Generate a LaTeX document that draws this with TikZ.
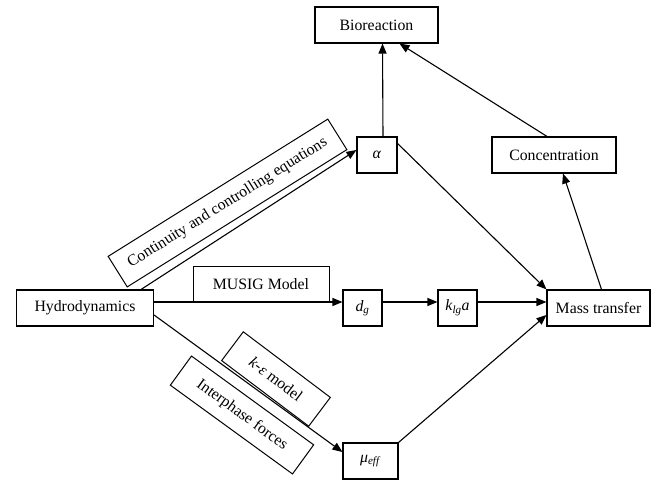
\documentclass[tikz,border=0pt]{standalone}
\usepackage{fontspec}
\setmainfont{Liberation Serif}
\usetikzlibrary{arrows.meta,positioning}
\tikzset{
    block/.style = {
        draw,
        line width=1.1pt,
        minimum height=36pt,
        inner sep=2pt,
        },
    tag/.style = {
        draw,
        line width=1pt,
        minimum height=36pt,
        inner sep=2pt,
        },
    link/.style = {
        ->,
        line width=1.1pt,
        },
}
\newcommand{\ivar}[2]{\textit{#1}\textsubscript{\textit{#2}}}

\begin{document}
\begin{tikzpicture}[
            x=1pt, y=-1pt,
            >={Triangle[length=10pt, width=8pt]},
            every node/.style={font=\fontsize{15.8}{19}\selectfont}
            ]
            \useasboundingbox (0,0) rectangle (666,481);

            % Blocks
            \node [block, minimum width=137pt] (hydro) at (85,308) {Hydrodynamics};
            \node [block, minimum width=40pt] (alpha) at (377,155) {\textit{α}};
            \node [block, minimum width=39pt] (dg) at (362.5,308) {\ivar{d}{g}};
            \node [block, minimum width=55pt] (mu) at (370.5,461) {\ivar{μ}{eff}};
            \node [block, minimum width=39pt] (kla) at (457.5,308) {\ivar{k}{lg}\textit{a}};
            \node [block, minimum width=103pt] (mass) at (598.5,308) {Mass transfer};
            \node [block, minimum width=124pt] (conc) at (554,155) {Concentration};
            \node [block, minimum width=123pt] (bio) at (376.5,25) {Bioreaction};

            % Tags along the links
            \node [tag, minimum width=136pt] (musig) at (261,284.5) {MUSIG Model};
            \node [tag, minimum width=259pt, rotate=32] (cont) at (227.5,203) {Continuity and controlling equations};
            \node [tag, minimum width=109pt, rotate=-37] (keps) at (276,379) {\textit{k}-\textit{ε} model};
            \node [tag, minimum width=151pt, rotate=-36] (inter) at (242,415) {Interphase forces};

            % Links
            \draw[link] ([xshift=-13pt]hydro.north east) -- ([yshift=5pt]alpha.west);
            \draw[link] ([yshift=6pt]hydro.east) -- ([yshift=6pt]dg.west);
            \draw[link] ([yshift=-7pt]hydro.east) -- ([yshift=9pt]mu.west);

            \draw[link] ([yshift=6pt]dg.east) -- ([yshift=6pt]kla.west);
            \draw[link] ([yshift=6pt]kla.east) -- ([yshift=6pt]mass.west);

            \draw[link] ([yshift=-7pt]alpha.north east) -- (mass.north west);
            \draw[link] (mu.north east) -- ([yshift=-7pt]mass.west);

            \draw[link] ([xshift=3pt]mass.north) -- ([xshift=9pt]conc.south);
            \draw[link] ([xshift=-7pt]conc.north) -- ([xshift=23pt]bio.south);
            \draw[link] ([xshift=6pt]alpha.north) -- ([xshift=6pt]bio.south);
\end{tikzpicture}
\end{document}
